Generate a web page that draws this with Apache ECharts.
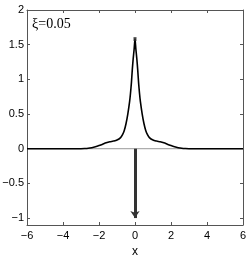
<!DOCTYPE html>
<html><head><meta charset="utf-8">
<script src="https://cdn.jsdelivr.net/npm/echarts@6/dist/echarts.min.js"></script>
<style>html,body{margin:0;padding:0;background:#fff}#c{width:249px;height:255px}</style>
</head><body><div id="c"></div>
<script>
var xValues = [-6,-5,-4,-3.4,-3.0,-2.8,-2.6,-2.4,-2.2,-2.0,-1.8,-1.6,-1.4,-1.2,-1.0,-0.8,-0.7,-0.6,-0.5,-0.4,-0.3,-0.25,-0.2,-0.15,-0.1,-0.05,0,0.05,0.1,0.15,0.2,0.25,0.3,0.4,0.5,0.6,0.7,0.8,1.0,1.2,1.4,1.6,1.8,2.0,2.2,2.4,2.6,2.8,3.0,3.4,4,5,6];
var yValues = [0,0,0,0,0,0.002,0.006,0.015,0.028,0.045,0.065,0.085,0.1,0.11,0.125,0.16,0.2,0.26,0.36,0.5,0.68,0.8,0.95,1.14,1.3,1.43,1.58,1.43,1.3,1.14,0.95,0.8,0.68,0.5,0.36,0.26,0.2,0.16,0.125,0.11,0.1,0.085,0.065,0.045,0.028,0.015,0.006,0.002,0,0,0,0,0];
var deltaX = 0, deltaY = -1;
var yTicks = [-1,-0.5,0,0.5,1,1.5,2];
var xTicks = [-6,-4,-2,0,2,4,6];
var label = 'ξ=0.05';

var curve = xValues.map(function(x,i){return [x,yValues[i]];});
var chart = echarts.init(document.getElementById('c'), null, {renderer:'canvas'});
var axisCol = '#555';
var lab = {color:'#000', fontFamily:'Liberation Sans, Arial', fontSize:11};
chart.setOption({
  animation:false,
  grid:{left:27,right:6,top:10,bottom:30,containLabel:false,outerBoundsMode:'none'},
  xAxis:[{type:'value',min:-6,max:6,interval:2,position:'bottom',
    name:'x',nameLocation:'middle',nameGap:21,nameTextStyle:{color:'#000',fontFamily:'Liberation Sans, Arial',fontSize:12},
    axisLine:{onZero:false,lineStyle:{color:axisCol,width:1}},
    axisTick:{inside:true,length:3,lineStyle:{color:axisCol}},
    axisLabel:Object.assign({margin:5,formatter:function(v){return String(v).replace('-','\u2212');}},lab),
    splitLine:{show:false}},
   {type:'value',min:-6,max:6,interval:2,position:'top',
    axisLine:{onZero:false,lineStyle:{color:axisCol,width:1}},
    axisTick:{inside:true,length:3,lineStyle:{color:axisCol}},
    axisLabel:{show:false},splitLine:{show:false}}],
  yAxis:[{type:'value',min:-1.1,max:2,position:'left',
    axisLine:{onZero:false,lineStyle:{color:axisCol,width:1}},
    axisTick:{inside:true,length:3,lineStyle:{color:axisCol},customValues:yTicks},
    axisLabel:Object.assign({margin:3,customValues:yTicks,formatter:function(v){return String(v).replace('-','\u2212');}},lab),
    splitLine:{show:false}},
   {type:'value',min:-1.1,max:2,position:'right',
    axisLine:{onZero:false,lineStyle:{color:axisCol,width:1}},
    axisTick:{inside:true,length:3,lineStyle:{color:axisCol},customValues:yTicks},
    axisLabel:{show:false},splitLine:{show:false}}],
  graphic:[{type:'text',x:32,y:24,z:10,style:{text:label,fill:'#000',textVerticalAlign:'middle',textAlign:'left',font:'14px "Liberation Serif", "DejaVu Serif", serif'}}],
  series:[
    {type:'line',data:[[-6,0],[6,0]],symbol:'none',lineStyle:{color:'#999',width:1},z:1,silent:true},
    {type:'line',data:curve,symbol:'none',smooth:0.3,lineStyle:{color:'#000',width:1.6},z:3,
      markLine:{symbol:['none','arrow'],symbolSize:[7,7],silent:true,label:{show:false},
        lineStyle:{color:'#333',width:3,type:'solid'},
        data:[[{coord:[deltaX,0]},{coord:[deltaX,deltaY]}]]}},
    {type:'scatter',data:[[0,1.58]],symbol:'rect',symbolSize:[3,4],itemStyle:{color:'#222'},z:4}
  ]
});
</script></body></html>
